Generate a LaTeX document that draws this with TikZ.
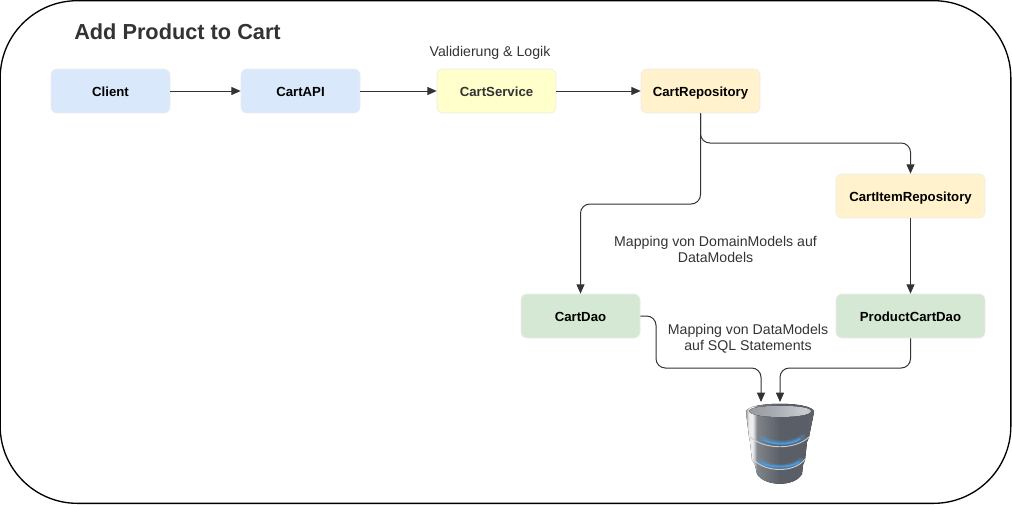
\documentclass[tikz,border=0pt]{standalone}
\usepackage{fontspec}
\setmainfont{Liberation Sans}
\usetikzlibrary{arrows.meta}
\definecolor{apiblue}{HTML}{DAE8FC}
\definecolor{svcyellow}{HTML}{FFFFCC}
\definecolor{repoorange}{HTML}{FFF2CC}
\definecolor{daogreen}{HTML}{D5E8D4}
\definecolor{ink}{HTML}{333333}
\definecolor{dbside}{HTML}{80858C}
\definecolor{dbmid}{HTML}{5A5F67}
\definecolor{dbedge}{HTML}{7C8188}
\definecolor{dbrim}{HTML}{C9CCD0}
\definecolor{dbglow}{HTML}{4A9BE0}
\pgfdeclarehorizontalshading{dbbody}{100bp}{
  color(0bp)=(dbside);
  color(24bp)=(dbmid!60!dbside);
  color(27bp)=(white!85!dbside);
  color(30bp)=(white!85!dbside);
  color(33bp)=(dbside);
  color(50bp)=(dbmid);
  color(70bp)=(dbmid);
  color(100bp)=(dbedge)}
\pgfdeclarehorizontalshading{dbtop}{100bp}{
  color(0bp)=(dbside);
  color(45bp)=(dbrim!55!dbside);
  color(70bp)=(dbrim);
  color(100bp)=(dbside)}
\begin{document}
\begin{tikzpicture}
        [x=0.75pt,y=-0.75pt,
        box/.style={rounded corners=4.5pt,draw=white!92!black,line width=0.5pt,inner sep=0,minimum width=89.25pt,minimum height=33pt,text height=7.5pt,text depth=0pt,font=\bfseries\fontsize{9.9}{11}\selectfont,text=black},
        widebox/.style={box,minimum width=111.75pt},
        note/.style={align=center,font=\fontsize{10.6}{12}\selectfont,text=ink,inner sep=0},
        flow/.style={draw=ink,line width=0.75pt,rounded corners=7pt,-{Triangle[length=7pt,width=6pt]}},
        flat/.style={draw=ink,line width=0.75pt,-{Triangle[length=7pt,width=6pt]}}]

        \useasboundingbox (0,0) rectangle (1012,504);

        \node[draw=black,line width=1pt,rounded corners=58pt,inner sep=0,minimum width=758pt,minimum height=377pt] (frame) at (505.5,252) {};

        \node[font=\bfseries\fontsize{16.3}{18}\selectfont,text=ink,inner sep=0] (title) at (177.5,32) {Add Product to Cart};
        \node[note] (logic) at (490,52.5) {Validierung \& Logik};

        \node[box,fill=apiblue] (client) at (110.5,91) {Client};
        \node[box,fill=apiblue] (cartapi) at (300.5,91) {CartAPI};
        \node[box,fill=svcyellow,text=ink] (cartservice) at (496.5,91) {CartService};
        \node[box,fill=repoorange] (cartrepo) at (700.5,91) {CartRepository};
        \node[widebox,fill=repoorange] (itemrepo) at (910.5,196) {CartItemRepository};
        \node[box,fill=daogreen] (cartdao) at (580.5,316) {CartDao};
        \node[widebox,fill=daogreen] (productdao) at (910.5,316) {ProductCartDao};

        \node[note] (domainnote) at (715.5,249.5) {Mapping von DomainModels auf\\DataModels};
        \node[note] (sqlnote) at (748,338.5) {Mapping von DataModels\\auf SQL Statements};

        \node[inner sep=0,minimum width=49.5pt,minimum height=60pt] (db) at (780,443) {};
        \coordinate (dbleft) at (761,402);
        \coordinate (dbright) at (780,402);
        \coordinate (forkitem) at (700.5,143);
        \coordinate (forkdao) at (700.5,204);
        \coordinate (bendleft) at (656,368);
        \coordinate (bendright) at (910.5,368);

        \fill[shading=dbbody] (746,412) .. controls (746,401) and (814,401) .. (814,412) -- (809,437) -- (807,442) -- (805,460) -- (803,465) -- (802,474) .. controls (795,487) and (765,487) .. (757,474) -- (755,465) -- (752,460) -- (750,442) -- (749,437) -- cycle;
        \fill[shading=dbtop] (749,411) .. controls (749,404) and (811,404) .. (811,411) .. controls (811,419) and (749,419) .. (749,411) -- cycle;
        \draw[dbglow,opacity=0.35,line width=3.5pt,line cap=round] (762,438) .. controls (775,445) and (790,445) .. (803,437);
        \draw[dbglow,line width=1.3pt,line cap=round] (764,440) .. controls (775,445) and (790,445) .. (800,439);
        \draw[dbglow,opacity=0.35,line width=3.5pt,line cap=round] (759,461) .. controls (772,469) and (790,469) .. (801,460);
        \draw[dbglow,line width=1.3pt,line cap=round] (762,463) .. controls (772,468) and (790,468) .. (799,462);
        \draw[dbrim,line width=0.7pt] (750,437) .. controls (765,450) and (795,450) .. (809,437);
        \draw[dbrim,line width=0.7pt] (753,459) .. controls (765,473) and (795,473) .. (805,459);

        \draw[flat] (client) -- (cartapi);
        \draw[flat] (cartapi) -- (cartservice);
        \draw[flat] (cartservice) -- (cartrepo);
        \draw[flow] (cartrepo.south) -- (forkitem) -| (itemrepo.north);
        \draw[flow] (cartrepo.south) -- (forkdao) -| (cartdao.north);
        \draw[flat] (itemrepo) -- (productdao);
        \draw[flow] (cartdao.east) -| (bendleft) -| (dbleft);
        \draw[flow] (productdao.south) -- (bendright) -| (dbright);
      \end{tikzpicture}
\end{document}
